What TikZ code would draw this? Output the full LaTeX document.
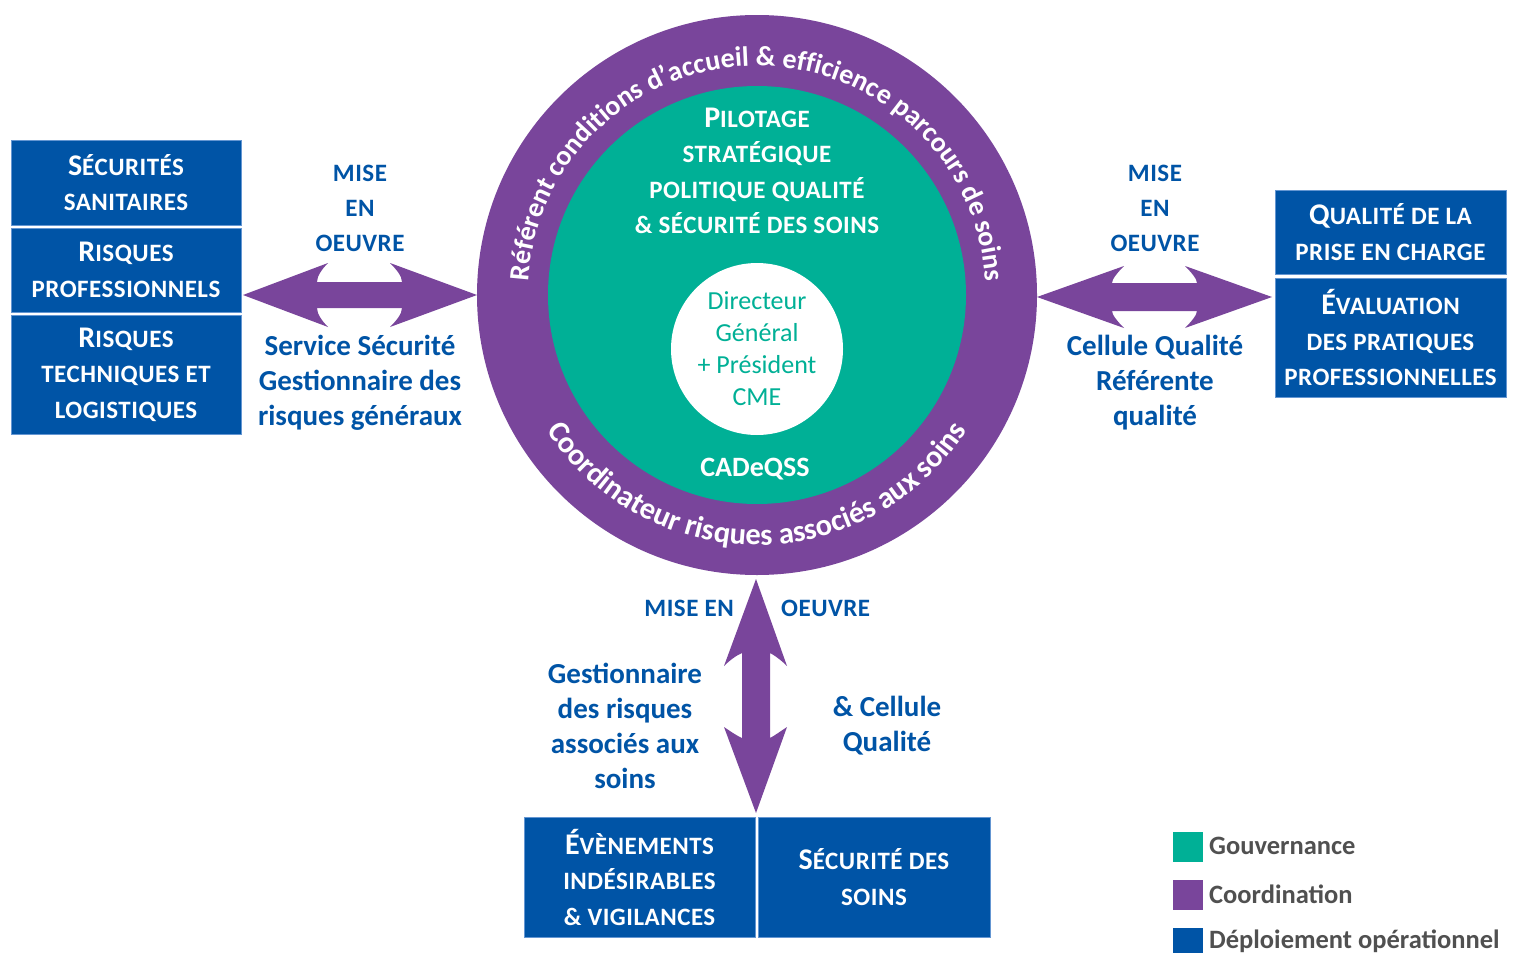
\documentclass[tikz,border=0pt]{standalone}
\usepackage{fontspec}
\setmainfont{Carlito}
\newfontfamily\capsfont[LetterSpace=2]{Carlito}
\usetikzlibrary{decorations.text}
\definecolor{cblue}{RGB}{0,84,166}
\definecolor{cedge}{RGB}{100,150,210}
\definecolor{cgreen}{RGB}{0,176,150}
\definecolor{cpurple}{RGB}{121,69,155}
\definecolor{cgray}{RGB}{80,80,80}
\newcommand\BigL[1]{{\fontsize{30}{35.5}\selectfont #1}}
\tikzset{
  bluebox/.style={fill=cblue, draw=cedge, line width=1pt, inner sep=0pt, text=white, align=center,
    font=\capsfont\bfseries\fontsize{25}{35.5}\selectfont},
  captxt/.style={text=cblue, align=center, inner sep=0pt,
    font=\capsfont\bfseries\fontsize{25}{35}\selectfont},
  roletxt/.style={text=cblue, align=center, inner sep=0pt,
    font=\bfseries\fontsize{29}{35}\selectfont},
  legtxt/.style={text=cgray, anchor=west, inner sep=0pt,
    font=\bfseries\fontsize{26.5}{30}\selectfont},
  legsq/.style={minimum size=30pt, inner sep=0pt, draw=none},
  bigarrow/.style={fill=cpurple, draw=none},
}
\begin{document}
\begin{tikzpicture}[x=1pt,y=1pt]
\useasboundingbox (0,0) rectangle (1516,-953);
\fill[white] (0,0) rectangle (1516,-953);

% circles
\node[circle, fill=cpurple, minimum size=560pt, inner sep=0pt] (outer) at (757,-295) {};
\node[circle, fill=cgreen, minimum size=418pt, inner sep=0pt] (inner) at (757,-295) {};
\node[circle, fill=white, minimum size=172pt, inner sep=0pt, text=cgreen, align=center,
  font=\fontsize{26}{32}\selectfont] (core) at (757,-349) {Directeur\\Général\\+ Président\\CME};

\node[text=white, inner sep=0pt, align=center, font=\capsfont\bfseries\fontsize{25}{35.5}\selectfont] (pilot) at (757,-171)
  {\BigL{P}ILOTAGE\\STRATÉGIQUE\\POLITIQUE QUALITÉ\\\& SÉCURITÉ DES SOINS};
\node[text=white, inner sep=0pt, font=\bfseries\fontsize{28}{30}\selectfont] (cadeqss) at (755,-469) {CADeQSS};

% ring texts
\path[decorate, decoration={text along path, text align=center,
  text format delimiters={|}{|},
  text={|\bfseries\fontsize{28}{28}\selectfont\color{white}|Référent conditions d’accueil {\&} efficience parcours de soins}}]
  (757,-295) ++(179:229) arc[start angle=179, end angle=1, radius=229];
\path[decorate, decoration={text along path, text align=center,
  text format delimiters={|}{|},
  text={|\bfseries\fontsize{30.5}{31}\selectfont\color{white}|Coordinateur risques associés aux soins}}]
  (757,-295) ++(195:250) arc[start angle=195, end angle=345, radius=250];

% left boxes
\node[bluebox, minimum width=230pt, minimum height=85pt] (sec) at (126,-182.5) {\BigL{S}ÉCURITÉS\\SANITAIRES};
\node[bluebox, minimum width=230pt, minimum height=84pt] (rpro) at (126,-270) {\BigL{R}ISQUES\\PROFESSIONNELS};
\node[bluebox, minimum width=230pt, minimum height=119pt] (rtech) at (126,-374.5) {\BigL{R}ISQUES\\TECHNIQUES ET\\LOGISTIQUES};

% right boxes
\node[bluebox, minimum width=231pt, minimum height=84pt] (qual) at (1390.5,-232) {\BigL{Q}UALITÉ DE LA\\PRISE EN CHARGE};
\node[bluebox, minimum width=231pt, minimum height=119pt] (eval) at (1390.5,-337.5) {\BigL{É}VALUATION\\DES PRATIQUES\\PROFESSIONNELLES};

% bottom boxes
\node[bluebox, minimum width=231pt, minimum height=120pt] (evi) at (639.5,-877) {\BigL{É}VÈNEMENTS\\INDÉSIRABLES\\\& VIGILANCES};
\node[bluebox, minimum width=232pt, minimum height=120pt] (secs) at (874,-877) {\BigL{S}ÉCURITÉ DES\\SOINS};

% left arrow
\fill[bigarrow] (243,-295) -- (328,-263) .. controls (322,-269) and (317,-276) .. (317,-282)
  -- (402,-282) .. controls (402,-276) and (396,-269) .. (390,-263) -- (477,-295)
  -- (390,-327) .. controls (396,-321) and (402,-314) .. (402,-308)
  -- (317,-308) .. controls (317,-314) and (322,-321) .. (328,-327) -- cycle;
% right arrow
\fill[bigarrow] (1037,-297) -- (1124,-266) .. controls (1118,-272) and (1112,-279) .. (1112,-283)
  -- (1197,-283) .. controls (1197,-279) and (1191,-272) .. (1185,-266) -- (1272,-297)
  -- (1185,-328) .. controls (1191,-322) and (1197,-315) .. (1197,-311)
  -- (1112,-311) .. controls (1112,-315) and (1118,-322) .. (1124,-328) -- cycle;
% vertical arrow
\fill[bigarrow] (756,-579) -- (787,-666) .. controls (781,-660) and (774,-655) .. (770,-653)
  -- (770,-738) .. controls (774,-736) and (781,-731) .. (787,-727) -- (756,-813)
  -- (724,-727) .. controls (730,-731) and (737,-736) .. (742,-738)
  -- (742,-653) .. controls (737,-655) and (730,-660) .. (724,-666) -- cycle;

% labels
\node[captxt] (m1) at (360,-208) {MISE\\EN\\OEUVRE};
\node[roletxt] (r1) at (360,-383) {Service Sécurité\\Gestionnaire des\\risques généraux};
\node[captxt] (m2) at (1155,-208) {MISE\\EN\\OEUVRE};
\node[roletxt] (r2) at (1155,-383) {Cellule Qualité\\Référente\\qualité};
\node[captxt, anchor=east] (m3a) at (734,-608) {MISE EN};
\node[captxt, anchor=west] (m3b) at (781,-608) {OEUVRE};
\node[roletxt] (r3a) at (625,-725.5) {Gestionnaire\\des risques\\associés aux\\soins};
\node[roletxt] (r3b) at (887,-725.5) {\& Cellule\\Qualité};

% legend
\node[legsq, fill=cgreen] (lg1) at (1188,-847) {};
\node[legsq, fill=cpurple] (lg2) at (1188,-895) {};
\node[legsq, fill=cblue] (lg3) at (1188,-943) {};
\node[legtxt] (lt1) at (1209,-846) {Gouvernance};
\node[legtxt] (lt2) at (1209,-894) {Coordination};
\node[legtxt] (lt3) at (1209,-941) {Déploiement opérationnel};
\end{tikzpicture}
\end{document}
